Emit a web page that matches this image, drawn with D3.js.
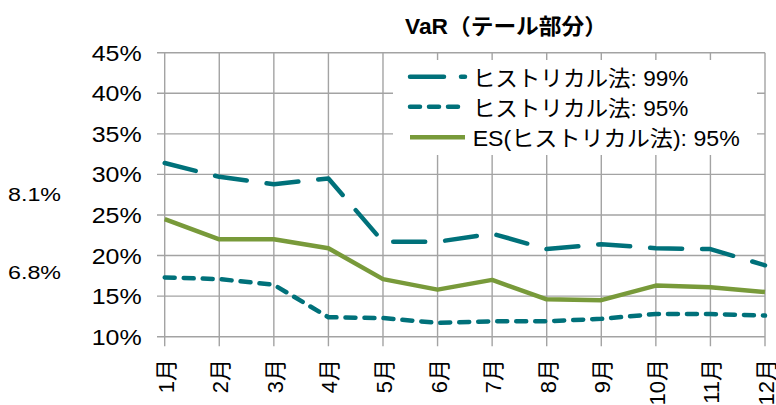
<!DOCTYPE html>
<html>
<head>
<meta charset="utf-8">
<script src="https://cdn.jsdelivr.net/npm/d3@7"></script>
<style>
  html, body { margin: 0; padding: 0; background: #fff; overflow: hidden; }
  svg { display: block; }
  text { font-family: "Liberation Sans", Arial, "Noto Sans CJK JP", sans-serif; fill: #000; }
</style>
</head>
<body>
<svg id="chart" width="776" height="405"></svg>
<script>
// ---- data ----
const months = ["1月","2月","3月","4月","5月","6月","7月","8月","9月","10月","11月","12月"];
const hist99 = [31.4, 29.7, 28.8, 29.5, 21.7, 21.7, 22.7, 20.8, 21.4, 20.9, 20.8, 18.8];
const hist95 = [17.3, 17.1, 16.4, 12.4, 12.3, 11.7, 11.9, 11.9, 12.2, 12.8, 12.8, 12.6];
const es95   = [24.5, 22.0, 22.0, 20.9, 17.1, 15.8, 17.0, 14.6, 14.5, 16.3, 16.1, 15.5];
const yTicks = [10, 15, 20, 25, 30, 35, 40, 45];
const seriesNames = ["ヒストリカル法: 99%", "ヒストリカル法: 95%", "ES(ヒストリカル法): 95%"];
const sideLabels = ["8.1%", "6.8%"];
const title = "VaR（テール部分）";

// ---- layout ----
const svg = d3.select("#chart");
const x = d3.scalePoint().domain(months).range([164.7, 765]);
const y = d3.scaleLinear().domain([10, 45]).range([336.7, 52.7]);
const teal = "#00717a", green = "#789a3a", grid = "#a3a3a3";

// title
svg.append("text").attr("x", 405).attr("y", 34)
  .attr("font-size", 22).attr("font-weight", "bold")
  .attr("textLength", 202).attr("lengthAdjust", "spacingAndGlyphs")
  .text(title);

// gridlines (horizontal)
svg.append("g").selectAll("line").data(yTicks).join("line")
  .attr("x1", 157).attr("x2", x(months[months.length - 1]))
  .attr("y1", d => y(d)).attr("y2", d => y(d))
  .attr("stroke", grid).attr("stroke-width", 1.4);
// gridlines (vertical)
svg.append("g").selectAll("line").data(months).join("line")
  .attr("x1", d => x(d)).attr("x2", d => x(d))
  .attr("y1", y(45)).attr("y2", y(10) + 9.5)
  .attr("stroke", grid).attr("stroke-width", 1.4);

// y labels
svg.append("g").selectAll("text").data(yTicks).join("text")
  .attr("x", 141.7).attr("y", d => y(d) + 8)
  .attr("text-anchor", "end").attr("font-size", 22)
  .attr("textLength", 50).attr("lengthAdjust", "spacingAndGlyphs")
  .text(d => d + "%");

// x labels (rotated)
svg.append("g").selectAll("text").data(months).join("text")
  .attr("transform", d => `translate(${x(d) + 9},359) rotate(-90)`)
  .attr("text-anchor", "end").attr("font-size", 22)
  .text(d => d);

// side labels
svg.append("g").selectAll("text").data(sideLabels).join("text")
  .attr("x", 8).attr("y", (d, i) => [201, 279][i])
  .attr("font-size", 17.5)
  .attr("textLength", 53).attr("lengthAdjust", "spacingAndGlyphs")
  .text(d => d);

// legend background
svg.append("rect").attr("x", 393).attr("y", 60).attr("width", 364).attr("height", 95)
  .attr("fill", "#fff");

// series lines
const line = d3.line().x((d, i) => x(months[i])).y(d => y(d));
const series = [
  { vals: hist99, color: teal, dash: "32,20" },
  { vals: hist95, color: teal, dash: "10,9" },
  { vals: es95,   color: green, dash: null }
];
series.forEach(s => {
  svg.append("path").datum(s.vals).attr("d", line)
    .attr("fill", "none").attr("stroke", s.color).attr("stroke-width", 4.5)
    .attr("stroke-linecap", s.dash ? "round" : "butt")
    .attr("stroke-linejoin", "round")
    .attr("stroke-dasharray", s.dash);
});

// legend
const lg = svg.append("g");
const legY = [76.7, 106.7, 137.3];
series.forEach((s, i) => {
  lg.append("line").attr("x1", 410).attr("x2", 465).attr("y1", legY[i]).attr("y2", legY[i])
    .attr("stroke", s.color).attr("stroke-width", 4.5)
    .attr("stroke-linecap", s.dash ? "round" : "butt")
    .attr("stroke-dasharray", s.dash ? (i === 0 ? "34,17" : "10,9") : null);
  lg.append("text").attr("x", 472.7).attr("y", legY[i] + 9)
    .attr("font-size", 22)
    .attr("textLength", [215.6, 215.6, 267][i]).attr("lengthAdjust", "spacingAndGlyphs")
    .text(seriesNames[i]);
});
</script>
</body>
</html>
